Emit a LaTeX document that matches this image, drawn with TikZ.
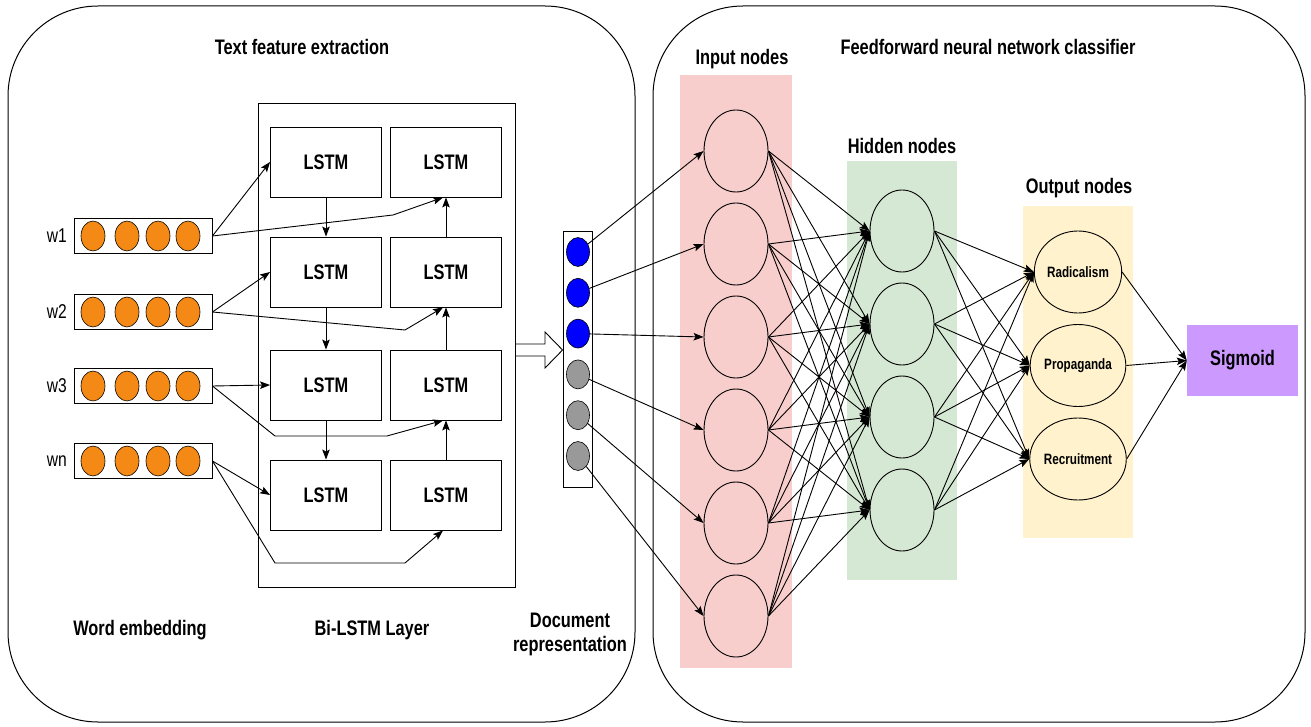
\documentclass[tikz,border=0pt]{standalone}
\usepackage{fontspec}
\setmainfont{Liberation Sans}
\newfontfamily\cnd[FakeStretch=0.78]{Liberation Sans}
\usetikzlibrary{shapes.geometric,arrows.meta}

\definecolor{embfill}{RGB}{245,137,22}
\definecolor{inband}{RGB}{248,206,204}
\definecolor{hidband}{RGB}{213,232,212}
\definecolor{outband}{RGB}{255,242,204}
\definecolor{sigfill}{RGB}{204,153,255}
\definecolor{docblue}{RGB}{0,0,255}
\definecolor{docgray}{RGB}{153,153,153}

\newcommand\headfont{\cnd\bfseries\fontsize{21}{25}\selectfont}
\newcommand\smallfont{\cnd\bfseries\fontsize{15}{17}\selectfont}
\newcommand\wfont{\cnd\fontsize{20}{22}\selectfont}

\tikzset{
  panel/.style={draw, line width=1pt, rounded corners=90pt},
  lstm/.style={draw, line width=0.9pt, minimum width=111pt, minimum height=70pt, inner sep=0pt, font=\headfont},
  embbox/.style={draw, line width=0.9pt, minimum width=138pt, minimum height=35pt, inner sep=0pt},
  embdot/.style={ellipse, draw, line width=0.6pt, fill=embfill, minimum width=24pt, minimum height=30pt, inner sep=0pt},
  docdot/.style={ellipse, draw, line width=0.6pt, minimum width=23pt, minimum height=29pt, inner sep=0pt},
  neuron/.style={ellipse, draw, line width=0.9pt, minimum width=64pt, minimum height=82pt, inner sep=0pt},
  arr/.style={-{Stealth[length=10pt,width=7.5pt,inset=2pt]}, line width=0.9pt},
  lbl/.style={font=\headfont, inner sep=0pt, align=center},
}

\begin{document}
\begin{tikzpicture}[x=1pt,y=-1pt]
\useasboundingbox (0,0) rectangle (1311,727);
\fill[white] (0,0) rectangle (1311,727);

% two panels
\draw[panel] (8,6) rectangle (635,722);
\draw[panel] (653,6) rectangle (1305,722);

% coloured layer bands
\fill[inband] (680,75) rectangle (792,668);
\fill[hidband] (847,161) rectangle (957,580);
\fill[outband] (1023,206) rectangle (1133,538);

% titles
\node[lbl] (t1) at (302,47) {Text feature extraction};
\node[lbl] (t2) at (988,47) {Feedforward neural network classifier};
\node[lbl] (t3) at (742,59) {Input nodes};
\node[lbl] (t4) at (902,146) {Hidden nodes};
\node[lbl] (t5) at (1079,188) {Output nodes};
\node[lbl] (t6) at (140,630) {Word embedding};
\node[lbl] (t7) at (372,630) {Bi-LSTM Layer};
\node[lbl, text depth=0pt] (t8) at (570,632) {Document\\[-1pt]representation};

% Bi-LSTM layer frame
\node[draw, line width=0.9pt, minimum width=257pt, minimum height=484pt, inner sep=0pt] (bil) at (386.5,345) {};

% LSTM cells: forward column (f) and backward column (b)
\foreach \i/\y in {1/162,2/272,3/385,4/495}{
  \node[lstm] (f\i) at (326,\y) {LSTM};
  \node[lstm] (b\i) at (446,\y) {LSTM};
}

% word embeddings
\foreach \i/\y/\w in {1/236/w1,2/312/w2,3/386/w3,4/461/wn}{
  \node[embbox] (e\i) at (143,\y) {};
  \foreach \k/\x in {1/93,2/127,3/158,4/188}{
    \node[embdot] (e\i c\k) at (\x,\y) {};
  }
  \node[font=\wfont, anchor=east, inner sep=0pt] (wl\i) at (67,\y) {\w};
}

% recurrent connections
\draw[arr] (f1.south) -- (f2.north);
\draw[arr] (f2.south) -- (f3.north);
\draw[arr] (f3.south) -- (f4.north);
\draw[arr] (b2.north) -- (b1.south);
\draw[arr] (b3.north) -- (b2.south);
\draw[arr] (b4.north) -- (b3.south);

% inputs to the cells
\draw[arr] (e1.east) -- (f1.west);
\draw[arr] (e2.east) -- (f2.west);
\draw[arr] (e3.east) -- (f3.west);
\draw[arr] (e4.east) -- (f4.west);
\draw[arr] (e1.east) -- (393,215) -- ([xshift=-3pt]b1.south);
\draw[arr] (e2.east) -- (405,330) -- ([xshift=-3pt]b2.south);
\draw[arr] (e3.east) -- (275,436) -- (387,436) -- ([xshift=-3pt]b3.south);
\draw[arr] (e4.east) -- (275,563) -- (405,563) -- ([xshift=-3pt]b4.south);

% document representation
\node[draw, line width=0.9pt, minimum width=29pt, minimum height=256pt, inner sep=0pt] (doc) at (577.5,359) {};
\foreach \i/\c in {1/docblue,2/docblue,3/docblue,4/docgray,5/docgray,6/docgray}{
  \node[docdot, fill=\c] (d\i) at (578,{252+40.8*(\i-1)}) {};
}

% hollow block arrow from the Bi-LSTM layer to the document vector
\draw[line width=0.9pt, fill=white] (bil.east |- 0,344) -- (545,344) -- (545,332) -- (doc.west |- 0,350)
  -- (545,368) -- (545,356) -- (bil.east |- 0,356) -- cycle;

% network nodes
\foreach \i in {1,...,6}{
  \node[neuron] (in\i) at (736,{151+93*(\i-1)}) {};
}
\foreach \j in {1,...,4}{
  \node[neuron] (h\j) at (902,{231+93*(\j-1)}) {};
}
\node[neuron, font=\smallfont] (o1) at (1078,272) {Radicalism};
\node[neuron, font=\smallfont] (o2) at (1078,365.5) {Propaganda};
\node[neuron, font=\smallfont] (o3) at (1078,459) {Recruitment};

\node[fill=sigfill, minimum width=111pt, minimum height=71pt, inner sep=0pt, font=\headfont] (sig) at (1242.5,360.5) {Sigmoid};

% connections
\foreach \i in {1,...,6}{
  \draw[arr] (d\i) -- (in\i.west);
  \foreach \j in {1,...,4}{
    \draw[arr] (in\i.east) -- (h\j.west);
  }
}
\foreach \j in {1,...,4}{
  \foreach \k in {1,...,3}{
    \draw[arr] (h\j.east) -- (o\k.west);
  }
}
\foreach \k in {1,...,3}{
  \draw[arr] (o\k.east) -- (sig.west);
}
\end{tikzpicture}
\end{document}
